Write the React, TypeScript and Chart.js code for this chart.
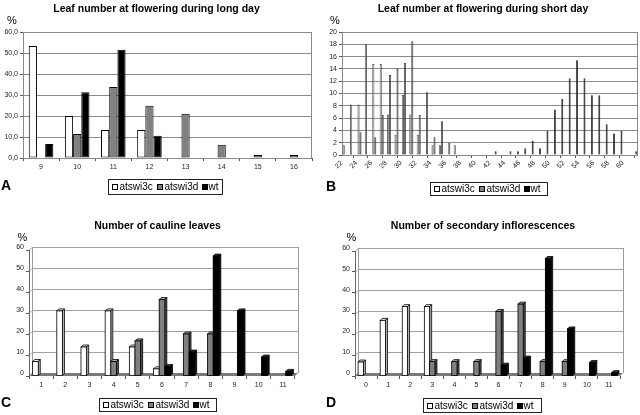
import React, { useEffect, useRef } from 'react';
import { Chart, registerables } from 'chart.js';
Chart.register(...registerables);

const FONT = "'Liberation Sans', Arial, Helvetica, sans-serif";

// ---------- Panel A: leaf number at flowering, long day ----------
const catsA = ['9', '10', '11', '12', '13', '14', '15', '16'];
const atswi3cA = [53.3, 20.0, 13.3, 13.3, null, null, null, null];
const atswi3dA = [null, 11.4, 33.8, 24.9, 21.1, 6.3, 1.4, 1.4];
const wtA = [6.7, 31.3, 51.6, 10.6, null, null, null, null];

// ---------- Panel B: leaf number at flowering, short day ----------
const catsB = ['22', '23', '24', '25', '26', '27', '28', '29', '30', '31', '32', '33', '34', '35', '36', '37', '38', '39', '40', '41',
  '42', '43', '44', '45', '46', '47', '48', '49', '50', '51', '52', '53', '54', '55', '56', '57', '58', '59', '60', '61'];
const tickLabelsB = ['22', '24', '26', '28', '30', '32', '34', '36', '38', '40', '42', '44', '46', '48', '50', '52', '54', '56', '58', '60'];
const atswi3cB = [1.6, 8.2, 8.2, 18.0, 14.8, 14.8, 6.6, 3.3, 9.8, 6.6, 3.3, null, 1.6, 1.6, null, 1.6, null, null, null, null,
  null, null, null, null, null, null, null, null, null, null, null, null, null, null, null, null, null, null, null, null];
const atswi3dB = [null, null, 3.7, null, 2.9, 6.5, 13.0, 14.0, 15.0, 18.5, 6.5, 10.2, 2.9, 5.5, 2.0, null, null, null, null, null,
  null, null, null, null, null, null, null, null, null, null, null, null, null, null, null, null, null, null, null, null];
const wtB = [null, null, null, null, null, null, null, null, null, null, null, null, null, null, null, null, null, null, null, null,
  0.6, null, 0.6, 0.6, 1.1, 2.3, 1.1, 4.0, 7.4, 9.1, 12.5, 15.4, 12.5, 9.7, 9.7, 5.0, 3.5, 3.9, null, 0.6];

// ---------- Panel C: number of cauline leaves ----------
const catsC = ['1', '2', '3', '4', '5', '6', '7', '8', '9', '10', '11'];
const atswi3cC = [6.9, 31.0, 13.8, 31.0, 13.8, 3.4, null, null, null, null, null];
const atswi3dC = [null, null, null, 6.9, 16.7, 36.4, 20.0, 20.0, null, null, null];
const wtC = [null, null, null, null, null, 4.5, 11.4, 57.1, 31.0, 9.0, 2.2];

// ---------- Panel D: number of secondary inflorescences ----------
const catsD = ['0', '1', '2', '3', '4', '5', '6', '7', '8', '9', '10', '11'];
const atswi3cD = [6.7, 26.7, 33.3, 33.3, null, null, null, null, null, null, null, null];
const atswi3dD = [null, null, null, 6.9, 6.9, 6.9, 31.0, 34.5, 6.9, 6.9, null, null];
const wtD = [null, null, null, null, null, null, 5.2, 8.6, 56.4, 22.6, 6.5, 1.6];

const seriesNames = ['atswi3c', 'atswi3d', 'wt'];
const seriesFill = ['#ffffff', '#808080', '#000000'];

const tickFont = { family: FONT, size: 7 };
const tickColor = '#222';

const framePlugin = {
  id: 'frame',
  beforeDatasetsDraw(chart: any) {
    const { ctx, chartArea } = chart;
    const { left, right, top, bottom } = chartArea;
    ctx.save();
    ctx.strokeStyle = '#8a8a8a';
    ctx.lineWidth = 1;
    ctx.strokeRect(Math.round(left) + 0.5, Math.round(top) + 0.5, Math.round(right - left) - 1, Math.round(bottom - top));
    ctx.restore();
  },
};

const threeDPlugin = {
  id: 'threeD',
  beforeDatasetsDraw(chart: any) {
    const { ctx, chartArea } = chart;
    const { left, right, top, bottom } = chartArea;
    const dx = 3, dy = -3;
    const ys = chart.scales.y;
    ctx.save();
    ctx.fillStyle = '#7a7a7a';
    ctx.beginPath();
    ctx.moveTo(left, bottom);
    ctx.lineTo(right, bottom);
    ctx.lineTo(right + dx, bottom + dy);
    ctx.lineTo(left + dx, bottom + dy);
    ctx.closePath();
    ctx.fill();
    ctx.strokeStyle = '#a0a0a0';
    ctx.lineWidth = 1;
    ys.ticks.forEach((t: any) => {
      if (t.value === 0) return;
      const y = Math.round(ys.getPixelForValue(t.value)) + 0.5;
      ctx.beginPath();
      ctx.moveTo(left, y);
      ctx.lineTo(left + dx, y + dy);
      ctx.lineTo(right + dx, y + dy);
      ctx.stroke();
    });
    ctx.strokeStyle = '#9a9a9a';
    ctx.beginPath();
    ctx.moveTo(Math.round(right + dx) + 0.5, top + dy);
    ctx.lineTo(Math.round(right + dx) + 0.5, bottom + dy);
    ctx.moveTo(Math.round(left + dx) + 0.5, top + dy);
    ctx.lineTo(Math.round(left + dx) + 0.5, bottom + dy);
    ctx.stroke();
    ctx.strokeStyle = '#666';
    ctx.beginPath();
    ctx.moveTo(Math.round(left) + 0.5, top);
    ctx.lineTo(Math.round(left) + 0.5, bottom);
    ctx.stroke();
    ctx.restore();
  },
  afterDatasetsDraw(chart: any) {
    const { ctx } = chart;
    const bdx = 2, bdy = -2;
    const faces = [
      { top: '#eeeeee', side: '#b8b8b8', front: '#ffffff' },
      { top: '#a6a6a6', side: '#555555', front: '#808080' },
      { top: '#3a3a3a', side: '#111111', front: '#000000' },
    ];
    const n = chart.data.labels.length;
    ctx.save();
    ctx.lineWidth = 0.8;
    ctx.strokeStyle = '#000';
    for (let i = 0; i < n; i++) {
      for (let d = 0; d < chart.data.datasets.length; d++) {
        const v = chart.data.datasets[d].data[i];
        if (v === null || v === undefined) continue;
        const el = chart.getDatasetMeta(d).data[i];
        const { x, y, base, width } = el.getProps(['x', 'y', 'base', 'width'], true);
        const L = x - width / 2, R = x + width / 2;
        const f = faces[d];
        ctx.fillStyle = f.top;
        ctx.beginPath();
        ctx.moveTo(L, y); ctx.lineTo(R, y); ctx.lineTo(R + bdx, y + bdy); ctx.lineTo(L + bdx, y + bdy); ctx.closePath();
        ctx.fill(); ctx.stroke();
        ctx.fillStyle = f.side;
        ctx.beginPath();
        ctx.moveTo(R, y); ctx.lineTo(R + bdx, y + bdy); ctx.lineTo(R + bdx, base + bdy); ctx.lineTo(R, base); ctx.closePath();
        ctx.fill(); ctx.stroke();
        ctx.fillStyle = f.front;
        ctx.fillRect(L, y, width, base - y);
        ctx.strokeRect(L, y, width, base - y);
      }
    }
    ctx.restore();
  },
};

function flatDatasets(vals: any[][], bw: number, bc: string) {
  return vals.map((data, i) => ({
    label: seriesNames[i],
    data,
    backgroundColor: seriesFill[i],
    borderColor: bc,
    borderWidth: bw,
    borderSkipped: false,
  }));
}

function xAxis(height: number) {
  return {
    grid: { display: true, drawOnChartArea: false, drawTicks: true, tickLength: 3, color: '#555', offset: true },
    border: { display: false },
    ticks: { font: tickFont, color: tickColor, padding: 2, maxRotation: 0, minRotation: 0, autoSkip: false },
    afterFit: (s: any) => { s.height = height; s.paddingLeft = 0; s.paddingRight = 0; },
  };
}

function yAxis(width: number, max: number, step: number, cb: any, grid: boolean, labelOffset = 0) {
  return {
    min: 0,
    max,
    ticks: { stepSize: step, callback: cb, font: tickFont, color: tickColor, padding: 2, labelOffset },
    grid: { color: '#8a8a8a', drawOnChartArea: grid, drawTicks: true, tickLength: 3, tickColor: '#555' },
    border: { display: false },
    afterFit: (s: any) => { s.width = width; },
  };
}

const baseOpts = (padding: any) => ({
  responsive: false,
  animation: false,
  events: [],
  layout: { padding },
  plugins: { legend: { display: false }, tooltip: { enabled: false }, title: { display: false } },
});

const buildA = () => ({
  type: 'bar',
  data: { labels: catsA, datasets: flatDatasets([atswi3cA, atswi3dA, wtA], 1, '#000') },
  options: {
    ...baseOpts({ left: 0, top: 32, right: 328, bottom: 237 }),
    datasets: { bar: { categoryPercentage: 0.68, barPercentage: 1 } },
    scales: {
      x: xAxis(20),
      y: yAxis(23, 60, 10, (v: any) => Number(v).toFixed(1).replace('.', ','), true),
    },
  },
  plugins: [framePlugin],
});

const buildB = () => ({
  type: 'bar',
  data: { labels: catsB, datasets: flatDatasets([atswi3cB, atswi3dB, wtB], 0.8, '#222') },
  options: {
    ...baseOpts({ left: 320, top: 32, right: 2, bottom: 240 }),
    datasets: { bar: { categoryPercentage: 0.8, barPercentage: 1 } },
    scales: {
      x: {
        ...xAxis(20),
        ticks: {
          font: tickFont, color: tickColor, padding: 1, minRotation: 45, maxRotation: 45, autoSkip: false, labelOffset: -4,
          callback: (_v: any, idx: number) => (tickLabelsB.includes(catsB[idx]) ? catsB[idx] : null),
        },
      },
      y: yAxis(22, 20, 2, (v: any) => String(v), true),
    },
  },
  plugins: [framePlugin],
});

function build3D(cats: string[], vals: any[][], padding: any, yWidth: number, catPct: number) {
  return {
    type: 'bar',
    data: { labels: cats, datasets: flatDatasets(vals, 0, '#000') },
    options: {
      ...baseOpts(padding),
      datasets: { bar: { categoryPercentage: catPct, barPercentage: 1 } },
      scales: {
        x: xAxis(20),
        y: yAxis(yWidth, 60, 10, (v: any) => String(v), false, -3),
      },
    },
    plugins: [threeDPlugin],
  };
}

const buildC = () => build3D(catsC, [atswi3cC, atswi3dC, wtC], { left: 0, top: 250, right: 345, bottom: 19 }, 29, 0.7);
const buildD = () => build3D(catsD, [atswi3cD, atswi3dD, wtD], { left: 320, top: 251, right: 20, bottom: 19 }, 35, 0.72);

function ChartCanvas({ build }: { build: () => any }) {
  const ref = useRef<HTMLCanvasElement>(null);
  useEffect(() => {
    const chart = new Chart(ref.current as HTMLCanvasElement, build());
    return () => chart.destroy();
  }, []);
  return <canvas ref={ref} width={640} height={415} style={{ position: 'absolute', left: 0, top: 0 }} />;
}

function Label({ x, y, text, size, bold }: { x: number; y: number; text: string; size: number; bold?: boolean }) {
  return (
    <div
      style={{
        position: 'absolute', left: x, top: y, transform: 'translate(-50%, -50%)',
        fontFamily: FONT, fontSize: size, fontWeight: bold ? 'bold' : 'normal',
        lineHeight: 1, whiteSpace: 'nowrap', color: '#000',
      }}
    >
      {text}
    </div>
  );
}

function Legend({ x, y, w, h }: { x: number; y: number; w: number; h: number }) {
  const offs = [[3, 10.5], [48, 55.5], [92.5, 99.5]];
  return (
    <div style={{ position: 'absolute', left: x, top: y, width: w, height: h, border: '1px solid #222', boxSizing: 'border-box', background: '#fff' }}>
      {seriesNames.map((n, i) => (
        <React.Fragment key={n}>
          <div style={{
            position: 'absolute', left: offs[i][0], top: (h - 2) / 2 - 3, width: 6, height: 6,
            background: seriesFill[i], border: '1px solid #000', boxSizing: 'border-box',
          }} />
          <div style={{
            position: 'absolute', left: offs[i][1], top: (h - 2) / 2, transform: 'translateY(-50%)',
            fontFamily: FONT, fontSize: 10, lineHeight: 1, whiteSpace: 'nowrap', color: '#000',
          }}>{n}</div>
        </React.Fragment>
      ))}
    </div>
  );
}

export default function App() {
  return (
    <div style={{ position: 'absolute', left: 0, top: 0, width: 640, height: 415, background: '#fff', overflow: 'hidden' }}>
      <ChartCanvas build={buildA} />
      <ChartCanvas build={buildB} />
      <ChartCanvas build={buildC} />
      <ChartCanvas build={buildD} />

      <Label x={156.5} y={7.5} text="Leaf number at flowering during long day" size={10.5} bold />
      <Label x={483} y={8.3} text="Leaf number at flowering during short day" size={10.5} bold />
      <Label x={157.5} y={224.5} text="Number of cauline leaves" size={10.5} bold />
      <Label x={483} y={224.5} text="Number of secondary inflorescences" size={10.5} bold />

      <Label x={12} y={20} text="%" size={11} />
      <Label x={335} y={19.5} text="%" size={11} />
      <Label x={22.5} y={237} text="%" size={11} />
      <Label x={351.5} y={237} text="%" size={11} />

      <Label x={6} y={185} text="A" size={14} bold />
      <Label x={331} y={186} text="B" size={14} bold />
      <Label x={6} y={402} text="C" size={14} bold />
      <Label x={331} y={402} text="D" size={14} bold />

      <Legend x={108} y={179} w={115} h={16} />
      <Legend x={430} y={182} w={118} h={14} />
      <Legend x={99} y={398} w={118} h={14} />
      <Legend x={423} y={398} w={119} h={15} />
    </div>
  );
}
